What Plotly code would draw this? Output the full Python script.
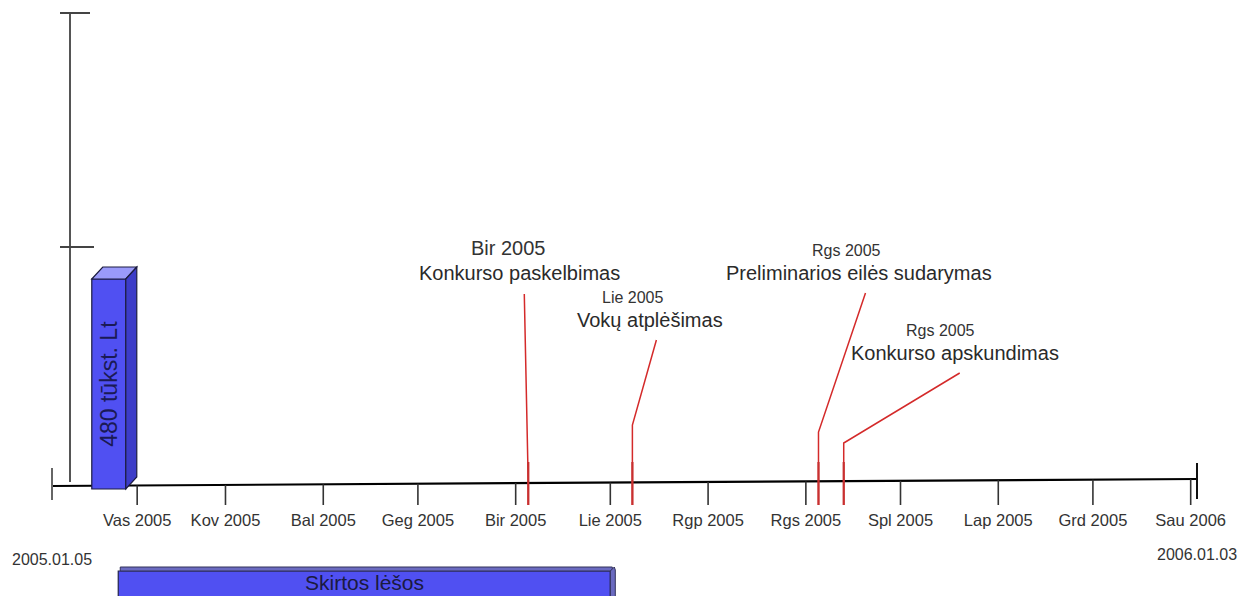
import plotly.graph_objects as go
import pandas as pd

# ---------------- data ----------------
timeline_start = "2005-01-05"
timeline_end = "2006-01-03"
start_label = "2005.01.05"
end_label = "2006.01.03"

month_dates = ["2005-02-01", "2005-03-01", "2005-04-01", "2005-05-01", "2005-06-01", "2005-07-01",
               "2005-08-01", "2005-09-01", "2005-10-01", "2005-11-01", "2005-12-01", "2006-01-01"]
month_labels = ["Vas 2005", "Kov 2005", "Bal 2005", "Geg 2005", "Bir 2005", "Lie 2005",
                "Rgp 2005", "Rgs 2005", "Spl 2005", "Lap 2005", "Grd 2005", "Sau 2006"]

event_dates = ["2005-06-05", "2005-07-08", "2005-09-05", "2005-09-13"]
event_months = ["Bir 2005", "Lie 2005", "Rgs 2005", "Rgs 2005"]
event_titles = ["Konkurso paskelbimas", "Vokų atplėšimas",
                "Preliminarios eilės sudarymas", "Konkurso apskundimas"]

funds_date = "2005-01-23"
funds_value = 480
funds_text = "480 tūkst. Lt"

alloc_start = "2005-01-26"
alloc_end = "2005-07-01"
alloc_text = "Skirtos lėšos"

# ---------------- layout / style ----------------
W, H = 1239, 596
FONT = "Liberation Sans, Arial, sans-serif"
X0_PX, X1_PX = 52, 1197            # pixel positions of the timeline ends
AXIS_Y0, AXIS_Y1 = 486, 479        # tilted timeline (pixel y at start / end)
TICK_BOTTOM = 505
BAR_BASE_PX, BAR_TOP_PX = 489, 279
BAR_W_PX, DEPTH_X, DEPTH_Y = 34, 11, 12

t0 = pd.Timestamp(timeline_start)
t1 = pd.Timestamp(timeline_end)
span_days = (t1 - t0) / pd.Timedelta(days=1)
ppd = (X1_PX - X0_PX) / span_days      # pixels per day
x_range = [(t0 - pd.Timedelta(days=X0_PX / ppd)).isoformat(),
           (t1 + pd.Timedelta(days=(W - X1_PX) / ppd)).isoformat()]

upp = funds_value / (BAR_BASE_PX - BAR_TOP_PX)   # value units per pixel on y2
y2_range = [-(H - BAR_BASE_PX) * upp, BAR_BASE_PX * upp]


def shift(date, px):
    return (pd.Timestamp(date) + pd.Timedelta(days=px / ppd)).isoformat()


def line_y(date):
    f = (pd.Timestamp(date) - t0) / (t1 - t0)
    return AXIS_Y0 + (AXIS_Y1 - AXIS_Y0) * f


# event label placement (pixels)
month_dx = [-20, 0, 28, 97]
month_y = [248, 297, 250, 330]
month_size = [20, 16, 16, 16]
title_dx = [-9, 18, 41, 111]
title_y = [273, 320, 273, 353]
knee_y = [486, 425, 432, 443]
top_dx = [-4, 24, 47, 116]
top_y = [294, 340, 293, 373]

RED = "#D42A2A"
BLUE = "#5050F2"

fig = go.Figure()

# bottom allocation bar (horizontal, on the date axis)
dur_ms = (pd.Timestamp(alloc_end) - pd.Timestamp(alloc_start)) / pd.Timedelta(milliseconds=1)
fig.add_trace(go.Bar(orientation="h", base=[alloc_start], x=[dur_ms], y=[591], width=[40],
                     marker=dict(color=BLUE, line=dict(color="#22224a", width=1.2)),
                     yaxis="y", hoverinfo="skip"))
fig.add_trace(go.Bar(orientation="h", base=[shift(alloc_start, 2)], x=[dur_ms], y=[569], width=[4],
                     marker=dict(color="#6A6AC0", line=dict(color="#33335a", width=1)),
                     yaxis="y", hoverinfo="skip"))

# timeline line
fig.add_trace(go.Scatter(x=[timeline_start, timeline_end], y=[AXIS_Y0, AXIS_Y1], mode="lines",
                         line=dict(color="#000000", width=2.2), hoverinfo="skip"))

# month ticks
tx, ty = [], []
for d in month_dates:
    tx += [d, d, None]
    ty += [line_y(d), TICK_BOTTOM, None]
fig.add_trace(go.Scatter(x=tx, y=ty, mode="lines", line=dict(color="#333333", width=1.6),
                         hoverinfo="skip"))

# event leader lines
for i, d in enumerate(event_dates):
    fig.add_trace(go.Scatter(x=[d, d, shift(d, top_dx[i])],
                             y=[TICK_BOTTOM, knee_y[i], top_y[i]], mode="lines",
                             line=dict(color=RED, width=1.5), hoverinfo="skip"))
    fig.add_trace(go.Scatter(x=[d, d], y=[TICK_BOTTOM, 462], mode="lines",
                             line=dict(color="#C83030", width=2.2), hoverinfo="skip"))

# vertical funds bar (value axis y2)
fig.add_trace(go.Bar(x=[funds_date], y=[funds_value], base=0,
                     width=[BAR_W_PX / ppd * 86400000],
                     marker=dict(color=BLUE, line=dict(color="#1c1c40", width=1.2)),
                     yaxis="y2", hoverinfo="skip"))

shapes = []
hw = BAR_W_PX / 2
dy = DEPTH_Y * upp
v = funds_value
shapes.append(dict(type="path", xref="x", yref="y2", xsizemode="pixel", xanchor=funds_date,
                   path=f"M{-hw},{v} L{hw},{v} L{hw + DEPTH_X},{v + dy} L{-hw + DEPTH_X},{v + dy} Z",
                   fillcolor="#9A9AFA", line=dict(color="#1c1c40", width=1.2), layer="above"))
shapes.append(dict(type="path", xref="x", yref="y2", xsizemode="pixel", xanchor=funds_date,
                   path=f"M{hw},{v} L{hw + DEPTH_X},{v + dy} L{hw + DEPTH_X},{dy} L{hw},0 Z",
                   fillcolor="#3C3CC8", line=dict(color="#1c1c40", width=1.2), layer="above"))
# rounded end cap of the allocation bar
shapes.append(dict(type="path", xref="x", yref="y", xsizemode="pixel", xanchor=alloc_end,
                   path="M0,571 L4,567 L5,570 L5,600 L0,600 Z",
                   fillcolor="#6A6AC0", line=dict(color="#33335a", width=1), layer="above"))

# value axis (left vertical line with two ticks)
shapes.append(dict(type="line", xref="paper", yref="y", x0=70 / W, x1=70 / W, y0=13, y1=482,
                   line=dict(color="#555555", width=2)))
for yy, xa, xb in [(13, 60, 90), (247, 60, 94)]:
    shapes.append(dict(type="line", xref="paper", yref="y", x0=xa / W, x1=xb / W, y0=yy, y1=yy,
                       line=dict(color="#444444", width=2)))

# timeline end ticks
shapes.append(dict(type="line", xref="x", yref="y", x0=timeline_start, x1=timeline_start,
                   y0=468, y1=500, line=dict(color="#666666", width=2)))
shapes.append(dict(type="line", xref="x", yref="y", x0=timeline_end, x1=timeline_end,
                   y0=463, y1=499, line=dict(color="#111111", width=2)))

annotations = []
for i, d in enumerate(event_dates):
    annotations.append(dict(x=d, y=month_y[i], xref="x", yref="y", xshift=month_dx[i],
                            text=event_months[i], showarrow=False,
                            font=dict(family=FONT, size=month_size[i], color="#333333")))
    annotations.append(dict(x=d, y=title_y[i], xref="x", yref="y", xshift=title_dx[i],
                            text=event_titles[i], showarrow=False,
                            font=dict(family=FONT, size=20, color="#2a2a2a")))

annotations.append(dict(x=timeline_start, y=559, xref="x", yref="y", text=start_label,
                        showarrow=False, font=dict(family=FONT, size=16, color="#333333")))
annotations.append(dict(x=timeline_end, y=554, xref="x", yref="y", text=end_label,
                        showarrow=False, font=dict(family=FONT, size=16, color="#333333")))
annotations.append(dict(x=funds_date, y=funds_value / 2, xref="x", yref="y2", text=funds_text,
                        textangle=-90, showarrow=False,
                        font=dict(family=FONT, size=23, color="#1a1a55")))
mid = pd.Timestamp(alloc_start) + (pd.Timestamp(alloc_end) - pd.Timestamp(alloc_start)) / 2
annotations.append(dict(x=mid.isoformat(), y=582, xref="x", yref="y", text=alloc_text,
                        showarrow=False, borderpad=0,
                        font=dict(family=FONT, size=21, color="#1a1a40")))

fig.update_layout(
    width=W, height=H, margin=dict(l=0, r=0, t=0, b=0),
    paper_bgcolor="white", plot_bgcolor="white",
    showlegend=False, barmode="overlay", hovermode=False,
    xaxis=dict(type="date", range=x_range, tickvals=month_dates, ticktext=month_labels,
               ticks="outside", ticklen=19, tickcolor="rgba(0,0,0,0)",
               tickfont=dict(family=FONT, size=16.5, color="#333333"),
               showgrid=False, zeroline=False, showline=False,
               anchor="free", position=(H - AXIS_Y0) / H, fixedrange=True),
    yaxis=dict(range=[H, 0], visible=False, domain=[0, 1], fixedrange=True),
    yaxis2=dict(range=y2_range, visible=False, overlaying="y", fixedrange=True),
    shapes=shapes, annotations=annotations,
)

fig.write_html("out.html", config={"displayModeBar": False},
               post_script="document.body.style.margin='0';document.body.style.overflow='hidden';")
